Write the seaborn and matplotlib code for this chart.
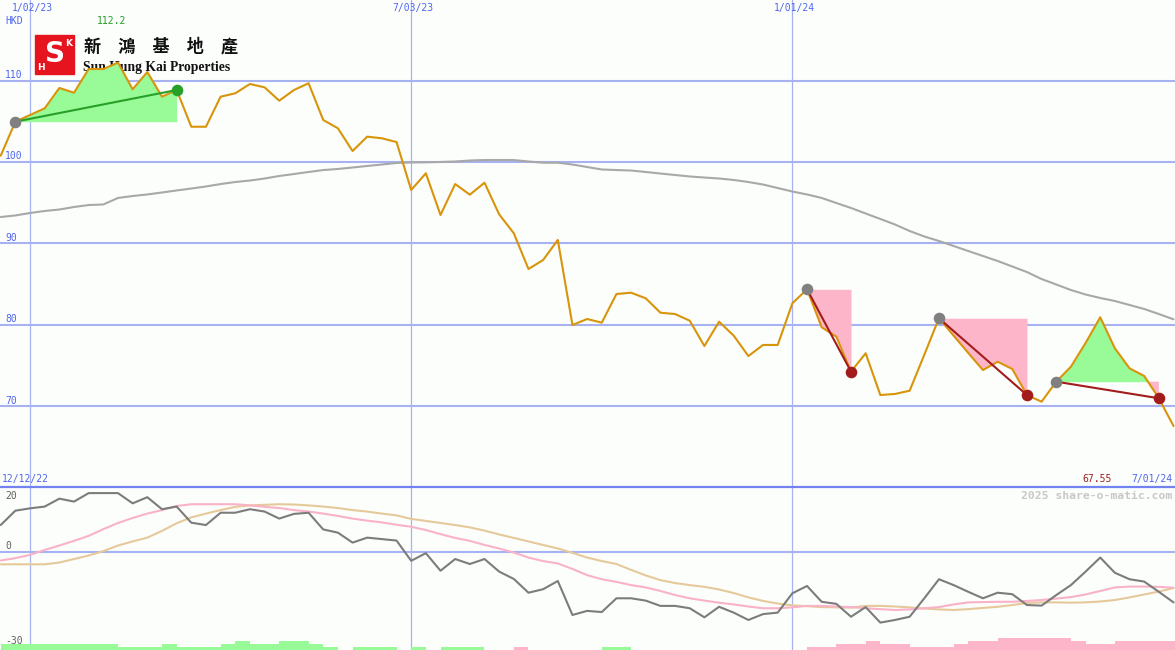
import numpy as np
import pandas as pd
import matplotlib
matplotlib.use("Agg")
import matplotlib.pyplot as plt
from matplotlib.patches import Rectangle
from matplotlib.lines import Line2D
import seaborn as sns

# weekly closes, Sun Hung Kai Properties (HKD)
weeks = pd.date_range("2022-12-19", periods=81, freq="W-MON")
price = [100.76, 104.94, 105.76, 106.58, 109.08, 108.50, 111.41, 111.41, 112.2, 108.92,
         111.04, 108.01, 108.83, 104.32, 104.32, 108.01, 108.43, 109.57, 109.16, 107.52,
         108.83, 109.66, 105.15, 104.13, 101.34, 103.10, 102.90, 102.44, 96.55, 98.60,
         93.48, 97.28, 95.97, 97.44, 93.56, 91.23, 86.84, 87.95, 90.41, 79.96,
         80.70, 80.25, 83.77, 83.93, 83.24, 81.47, 81.31, 80.49, 77.38, 80.37,
         78.65, 76.15, 77.51, 77.51, 82.63, 84.35, 79.68, 78.53, 74.23, 76.49,
         71.36, 71.49, 71.89, 76.31, 80.79, 78.65, 76.52, 74.43, 75.45, 74.56,
         71.36, 70.54, 73.00, 74.84, 77.75, 80.91, 77.10, 74.64, 73.70, 70.96,
         67.55]
ma_long = [93.23, 93.42, 93.72, 93.97, 94.15, 94.46, 94.70, 94.77, 95.57, 95.81,
           96.00, 96.24, 96.49, 96.73, 96.98, 97.28, 97.53, 97.71, 97.96, 98.27,
           98.51, 98.76, 99.00, 99.13, 99.31, 99.50, 99.68, 99.87, 99.93, 99.95,
           99.99, 100.05, 100.17, 100.23, 100.23, 100.23, 100.05, 99.90, 99.90, 99.68,
           99.37, 99.07, 99.00, 98.94, 98.76, 98.57, 98.39, 98.21, 98.08, 97.96,
           97.78, 97.53, 97.22, 96.79, 96.36, 96.00, 95.57, 94.95, 94.34, 93.66,
           92.99, 92.31, 91.51, 90.84, 90.28, 89.67, 89.05, 88.44, 87.83, 87.15,
           86.47, 85.61, 84.94, 84.26, 83.71, 83.28, 82.91, 82.42, 81.93, 81.31,
           80.66]

# lower panel oscillator
osc = [9.1, 14.0, 14.8, 15.4, 18.1, 17.1, 20.0, 20.0, 20.0, 16.5,
       18.6, 14.5, 15.4, 9.9, 9.1, 13.3, 13.3, 14.5, 13.7, 11.3,
       12.9, 13.3, 7.6, 6.5, 3.1, 4.8, 4.3, 3.8, -3.1, -0.5,
       -6.5, -2.5, -4.2, -2.5, -6.8, -9.3, -14.0, -12.8, -10.0, -21.6,
       -20.2, -20.6, -15.9, -15.9, -16.7, -18.5, -18.5, -19.3, -22.4, -18.8,
       -20.8, -23.3, -21.3, -20.8, -14.2, -11.7, -17.1, -17.8, -22.2, -18.9,
       -24.2, -23.3, -22.2, -15.9, -9.4, -11.4, -13.7, -15.9, -14.0, -14.5,
       -18.2, -18.4, -14.8, -11.4, -6.8, -2.0, -7.2, -9.4, -10.2, -13.7,
       -17.3]
osc_fast = [-3.0, -2.2, -1.1, 0.6, 2.1, 3.7, 5.4, 7.7, 9.8, 11.5,
            13.0, 14.2, 15.6, 16.2, 16.2, 16.2, 16.2, 15.8, 15.3, 14.9,
            14.2, 13.7, 13.0, 12.2, 11.3, 10.6, 10.0, 9.2, 8.5, 7.4,
            6.0, 4.7, 3.7, 2.3, 1.1, -0.3, -2.0, -3.2, -4.0, -5.9,
            -8.0, -9.4, -10.3, -11.4, -12.2, -13.4, -14.8, -15.9, -16.7, -17.4,
            -18.0, -18.7, -19.3, -19.3, -19.0, -18.5, -18.5, -18.7, -18.9, -19.3,
            -19.6, -19.9, -19.7, -19.3, -18.9, -18.0, -17.3, -17.2, -17.1, -17.1,
            -16.8, -16.5, -16.0, -15.5, -14.6, -13.4, -12.2, -11.9, -11.9, -12.0,
            -12.3]
osc_slow = [-4.3, -4.3, -4.3, -4.3, -3.7, -2.5, -1.3, 0.2, 2.1, 3.5,
            4.8, 7.1, 9.7, 11.7, 13.0, 14.2, 15.3, 15.8, 16.0, 16.2,
            16.1, 15.8, 15.4, 14.9, 14.2, 13.7, 13.0, 12.4, 11.2, 10.5,
            9.8, 9.1, 8.3, 7.2, 5.9, 4.7, 3.5, 2.3, 1.1, -0.4,
            -2.0, -3.2, -4.2, -6.2, -8.1, -9.7, -10.7, -11.4, -12.0, -12.9,
            -14.1, -15.6, -16.8, -17.7, -18.3, -18.6, -18.9, -19.0, -19.1, -18.5,
            -18.5, -18.7, -19.0, -19.4, -19.7, -19.9, -19.6, -19.2, -18.8, -18.2,
            -17.5, -17.3, -17.3, -17.4, -17.3, -17.0, -16.5, -15.6, -14.6, -13.6,
            -12.4]
# bar strength at the bottom: + green, - pink
signal = [2, 2, 2, 2, 2, 2, 2, 2, 1, 1,
          1, 2, 1, 1, 1, 2, 3, 2, 2, 3,
          3, 2, 1, 0, 1, 1, 1, 0, 1, 0,
          1, 1, 1, 0, 0, -1, 0, 0, 0, 0,
          0, 1, 1, 0, 0, 0, 0, 0, 0, 0,
          0, 0, 0, 0, 0, -1, -1, -2, -2, -3,
          -2, -2, -1, -1, -1, -2, -3, -3, -4, -4,
          -4, -4, -4, -3, -2, -2, -3, -3, -3, -3,
          -3]

# swing patterns (start week, end week)
patterns = [(1, 12), (55, 58), (64, 70), (72, 79)]

grid_dates = ["2023-01-02", "2023-07-03", "2024-01-01"]
grid_labels = ["1/02/23", "7/03/23", "1/01/24"]
price_levels = [70, 80, 90, 100, 110]
osc_levels = [20, 0, -30]
first_label = "12/12/22"
last_label = "7/01/24"

BG = "#fcfefc"
GRID = "#a6b2f2"
BLUE = "#5066f0"

sns.set_style("white")
plt.rcParams["font.family"] = ["DejaVu Sans Mono", "DejaVu Sans"]

W, H = 1175, 650
fig = plt.figure(figsize=(W / 100, H / 100), dpi=100, facecolor=BG)
split = 487  # pixel row between panels


def fx(x):
    return x / W


def fy(y):
    return 1 - y / H


ax = fig.add_axes([0, fy(split), 1, split / H])
axb = fig.add_axes([0, 0, 1, fy(split)])
for a in (ax, axb):
    a.axis("off")
    a.set_xlim(-0.048, 80.1)
ax.set_ylim(60.06, 119.89)
axb.set_ylim(-33.55, 22.08)

df = pd.DataFrame({"week": np.arange(len(price)), "price": price, "ma": ma_long,
                   "osc": osc, "fast": osc_fast, "slow": osc_slow, "signal": signal})
grid_x = [(pd.Timestamp(d) - weeks[0]).days / 7 for d in grid_dates]

# grid
for lv in price_levels:
    ax.axhline(lv, color=GRID, lw=1.5, zorder=0.2)
    ax.annotate(str(lv), xy=(0, lv), xycoords=ax.get_yaxis_transform(),
                xytext=(3.6, 4), textcoords="offset points", va="center",
                fontsize=7, color=BLUE)
for gx, gl in zip(grid_x, grid_labels):
    ax.axvline(gx, color=GRID, lw=0.9, zorder=0.2)
    axb.axvline(gx, color=GRID, lw=0.9, zorder=0.2)
    ax.annotate(gl, xy=(gx, 1), xycoords=ax.get_xaxis_transform(),
                xytext=(1.5, -5.8), textcoords="offset points", ha="center",
                va="center", fontsize=7, color=BLUE)
axb.axhline(0, color=GRID, lw=1.5, zorder=0.2)
fig.add_artist(Line2D([0, 1], [fy(split), fy(split)], transform=fig.transFigure,
                      color="#7282f0", lw=1.6))

# logo (behind the price line)
tf = fig.transFigure
ax.add_patch(Rectangle((fx(35), fy(74)), fx(39), 39 / H, transform=tf,
                       color="#e5141e", zorder=0.4, clip_on=False))
ax.text(fx(55), fy(54), "S", transform=tf, fontsize=20, fontweight="bold",
        color="white", ha="center", va="center", family="DejaVu Sans", zorder=0.5)
ax.text(fx(69), fy(43), "K", transform=tf, fontsize=6.5, fontweight="bold",
        color="white", ha="center", va="center", family="DejaVu Sans", zorder=0.5)
ax.text(fx(41), fy(68), "H", transform=tf, fontsize=6.5, fontweight="bold",
        color="white", ha="center", va="center", family="DejaVu Sans", zorder=0.5)
ax.text(fx(84), fy(46), "新\u3000鴻\u3000基\u3000地\u3000產", transform=tf,
        family=["Noto Sans CJK TC", "DejaVu Sans"], fontweight="bold", fontsize=12.3,
        va="center", ha="left", color="#111111", zorder=0.5)
ax.text(fx(83), fy(68), "Sun Hung Kai Properties", transform=tf,
        family="Liberation Serif", fontweight="bold", fontsize=9.8,
        va="center", ha="left", color="#111111", zorder=0.5)

# long moving average and price
sns.lineplot(data=df, x="week", y="ma", ax=ax, color="#a8a8a8", lw=1.5, zorder=1.2)

weeks_idx = df["week"].to_numpy()
p = np.array(price)
for a0, a1 in patterns:
    xs = weeks_idx[a0:a1 + 1]
    ys = p[a0:a1 + 1]
    base = p[a0]
    ax.fill_between(xs, ys, base, where=ys >= base, interpolate=True,
                    color="#98fb98", lw=0, zorder=1.5)
    ax.fill_between(xs, ys, base, where=ys <= base, interpolate=True,
                    color="#fdb6c9", lw=0, zorder=1.5)

sns.lineplot(data=df, x="week", y="price", ax=ax, color="#d8940a", lw=1.5, zorder=2)

for a0, a1 in patterns:
    up = p[a1] > p[a0]
    c = "#28a028" if up else "#a31c1c"
    ax.plot([a0, a1], [p[a0], p[a1]], color=c, lw=1.5, zorder=3)
    ax.scatter([a0], [p[a0]], s=70, color="#808080", zorder=4, lw=0)
    ax.scatter([a1], [p[a1]], s=70, color=c, zorder=4, lw=0)

fig.text(fx(5), fy(21), "HKD", fontsize=7, color=BLUE, va="center")
fig.text(fx(97), fy(21), f"{max(price):.1f}", fontsize=7, color="#22a022", va="center")

# lower panel
px_unit = axb.transData.transform((0, 1))[1] - axb.transData.transform((0, 0))[1]
lo = axb.get_ylim()[0]
sig = np.array(signal)
bar_h = np.abs(sig) * 3 / px_unit
bar_c = np.where(sig > 0, "#98fb98", "#fdb6c9")
axb.bar(weeks_idx, bar_h, bottom=lo, width=1, align="edge", color=bar_c, lw=0, zorder=1)

sns.lineplot(data=df, x="week", y="slow", ax=axb, color="#e6c99a", lw=1.5, zorder=2)
sns.lineplot(data=df, x="week", y="fast", ax=axb, color="#f9b2c8", lw=1.5, zorder=2.1)
sns.lineplot(data=df, x="week", y="osc", ax=axb, color="#7c7c7c", lw=1.5, zorder=2.2)
for a in (ax, axb):
    a.set_xlabel("")
    a.set_ylabel("")

for lv, dy in zip(osc_levels, [-2, 4, -1]):
    axb.annotate(str(lv), xy=(0, lv), xycoords=axb.get_yaxis_transform(),
                 xytext=(3.6, dy), textcoords="offset points", va="center",
                 fontsize=7, color="#606060")

fig.text(fx(2), fy(479), first_label, fontsize=7, color=BLUE, va="center")
fig.text(fx(1112), fy(479), f"{price[-1]:.2f}", fontsize=7, color="#a02020",
         va="center", ha="right")
fig.text(fx(1172), fy(479), last_label, fontsize=7, color=BLUE, va="center", ha="right")
fig.text(fx(1172), fy(496), "2025 share-o-matic.com", fontsize=8.2, fontweight="bold",
         color="#c8c8c8", va="center", ha="right")

fig.savefig("out.png", dpi=100, facecolor=BG)
